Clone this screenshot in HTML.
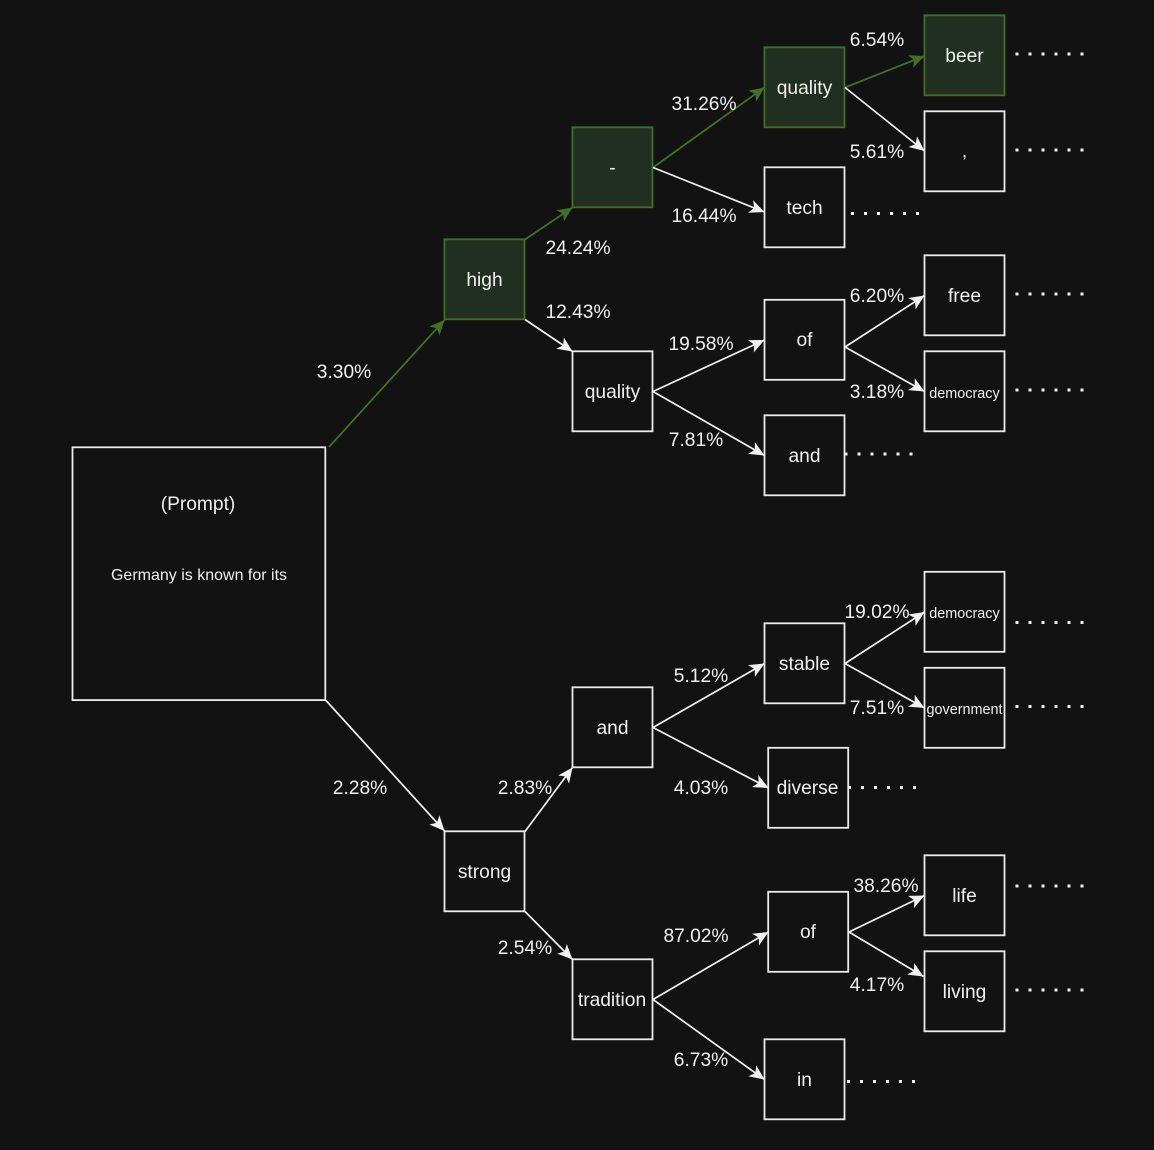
<!DOCTYPE html>
<html>
<head>
<meta charset="utf-8">
<style>
html,body{margin:0;padding:0;background:#121212;width:1154px;height:1150px;overflow:hidden}
svg{display:block}
text{font-family:"Liberation Sans",Arial,sans-serif;fill:#f0f0f0;text-anchor:middle;font-size:19.2px}
.b{fill:#121212;stroke:#ececec;stroke-width:1.8}
.g{fill:#212f20;stroke:#42702a;stroke-width:1.8}
.e{stroke:#f0f0f0;stroke-width:1.7;fill:none;marker-end:url(#aw)}
.eg{stroke:#42702a;stroke-width:1.8;fill:none;marker-end:url(#ag)}
.d{stroke:#f0f0f0;stroke-width:3;stroke-dasharray:3 10;fill:none}
</style>
</head>
<body>
<svg width="1154" height="1150" viewBox="0 0 1154 1150" xmlns="http://www.w3.org/2000/svg">
<defs>
<marker id="aw" markerUnits="userSpaceOnUse" markerWidth="18" markerHeight="18" refX="16" refY="9" orient="auto"><path d="M16,9 L1,2.2 L4.8,9 L1,15.8 Z" fill="#f0f0f0"/></marker>
<marker id="ag" markerUnits="userSpaceOnUse" markerWidth="18" markerHeight="18" refX="16" refY="9" orient="auto"><path d="M16,9 L1,2.2 L4.8,9 L1,15.8 Z" fill="#42702a"/></marker>
</defs>
<rect width="1154" height="1150" fill="#121212"/>

<g transform="translate(-0.3,-0.2)">
<rect class="b" x="72.8" y="447.5" width="252.8" height="252.8"/>
<rect class="g" x="444.8" y="239.5" width="80" height="80"/>
<rect class="g" x="572.8" y="127.5" width="80" height="80"/>
<rect class="g" x="764.8" y="47.5" width="80" height="80"/>
<rect class="g" x="924.8" y="15.5" width="80" height="80"/>
<rect class="b" x="924.8" y="111.5" width="80" height="80"/>
<rect class="b" x="764.8" y="167.5" width="80" height="80"/>
<rect class="b" x="572.8" y="351.5" width="80" height="80"/>
<rect class="b" x="764.8" y="300" width="80" height="80"/>
<rect class="b" x="764.8" y="415.5" width="80" height="80"/>
<rect class="b" x="924.8" y="255.5" width="80" height="80"/>
<rect class="b" x="924.8" y="351.5" width="80" height="80"/>
<rect class="b" x="444.8" y="831.5" width="80" height="80"/>
<rect class="b" x="572.8" y="687.5" width="80" height="80"/>
<rect class="b" x="764.8" y="623.5" width="80" height="80"/>
<rect class="b" x="768.5" y="748" width="80" height="80"/>
<rect class="b" x="924.8" y="572" width="80" height="80"/>
<rect class="b" x="924.8" y="668" width="80" height="80"/>
<rect class="b" x="572.8" y="959.5" width="80" height="80"/>
<rect class="b" x="768.5" y="892" width="80" height="80"/>
<rect class="b" x="764.8" y="1039.5" width="80" height="80"/>
<rect class="b" x="924.8" y="855.5" width="80" height="80"/>
<rect class="b" x="924.8" y="951.5" width="80" height="80"/>
</g>

<line class="eg" x1="329" y1="447" x2="444.5" y2="320"/>
<line class="e" x1="326" y1="700.5" x2="444.5" y2="831"/>
<line class="eg" x1="525" y1="239.5" x2="572.5" y2="207.5"/>
<line class="e" x1="525" y1="319.5" x2="572.5" y2="351.5"/>
<line class="eg" x1="653" y1="167.5" x2="764.5" y2="87.5"/>
<line class="e" x1="653" y1="167.5" x2="764.5" y2="212"/>
<line class="eg" x1="845" y1="87.5" x2="924.5" y2="56"/>
<line class="e" x1="845" y1="87.5" x2="924.5" y2="151"/>
<line class="e" x1="653" y1="391.5" x2="764.5" y2="340"/>
<line class="e" x1="653" y1="391.5" x2="764.5" y2="455.5"/>
<line class="e" x1="845" y1="347" x2="924.5" y2="295.5"/>
<line class="e" x1="845" y1="347" x2="924.5" y2="391.5"/>
<line class="e" x1="525" y1="831.5" x2="572.5" y2="767.5"/>
<line class="e" x1="525" y1="911.5" x2="572.5" y2="959.5"/>
<line class="e" x1="653" y1="727.5" x2="764.5" y2="663.5"/>
<line class="e" x1="653" y1="727.5" x2="768.5" y2="788"/>
<line class="e" x1="845" y1="663.5" x2="924.5" y2="612"/>
<line class="e" x1="845" y1="663.5" x2="924.5" y2="708"/>
<line class="e" x1="653" y1="999.5" x2="768.5" y2="932"/>
<line class="e" x1="653" y1="999.5" x2="764.5" y2="1079.5"/>
<line class="e" x1="849" y1="932" x2="924.5" y2="895.5"/>
<line class="e" x1="849" y1="932" x2="923.5" y2="976.5"/>

<line class="d" x1="1015.5" y1="54" x2="1084" y2="54"/>
<line class="d" x1="1015.5" y1="150" x2="1084" y2="150"/>
<line class="d" x1="851" y1="213.5" x2="919.5" y2="213.5"/>
<line class="d" x1="1015.5" y1="294" x2="1084" y2="294"/>
<line class="d" x1="1015.5" y1="390" x2="1084" y2="390"/>
<line class="d" x1="844.5" y1="454" x2="913" y2="454"/>
<line class="d" x1="1015.5" y1="622.5" x2="1084" y2="622.5"/>
<line class="d" x1="1015.5" y1="706.5" x2="1084" y2="706.5"/>
<line class="d" x1="848" y1="787.5" x2="916.5" y2="787.5"/>
<line class="d" x1="1015.5" y1="886" x2="1084" y2="886"/>
<line class="d" x1="1015.5" y1="990" x2="1084" y2="990"/>
<line class="d" x1="847" y1="1081.5" x2="915.5" y2="1081.5"/>

<text x="198" y="510">(Prompt)</text>
<text x="199" y="580" style="font-size:16px">Germany is known for its</text>
<text x="484.5" y="286">high</text>
<text x="612.5" y="174">-</text>
<text x="804.5" y="94">quality</text>
<text x="964.5" y="62">beer</text>
<text x="964.5" y="157">,</text>
<text x="804.5" y="214">tech</text>
<text x="612.5" y="398">quality</text>
<text x="804.5" y="346">of</text>
<text x="804.5" y="462">and</text>
<text x="964.5" y="302">free</text>
<text x="964.5" y="398" style="font-size:14.4px">democracy</text>
<text x="484.5" y="878">strong</text>
<text x="612.5" y="734">and</text>
<text x="804.5" y="670">stable</text>
<text x="807.5" y="794">diverse</text>
<text x="964.5" y="618" style="font-size:14.4px">democracy</text>
<text x="964.5" y="714" style="font-size:14.4px">government</text>
<text x="612" y="1006">tradition</text>
<text x="808" y="938">of</text>
<text x="804.5" y="1086">in</text>
<text x="964.5" y="902">life</text>
<text x="964.5" y="998">living</text>

<text x="344" y="378">3.30%</text>
<text x="360" y="794">2.28%</text>
<text x="578" y="254">24.24%</text>
<text x="578" y="318">12.43%</text>
<text x="704" y="110">31.26%</text>
<text x="704" y="222">16.44%</text>
<text x="877" y="46">6.54%</text>
<text x="877" y="158">5.61%</text>
<text x="701" y="350">19.58%</text>
<text x="696" y="446">7.81%</text>
<text x="877" y="302">6.20%</text>
<text x="877" y="398">3.18%</text>
<text x="525" y="794">2.83%</text>
<text x="525" y="954">2.54%</text>
<text x="701" y="682">5.12%</text>
<text x="701" y="794">4.03%</text>
<text x="877" y="618">19.02%</text>
<text x="877" y="714">7.51%</text>
<text x="696" y="942">87.02%</text>
<text x="701" y="1066">6.73%</text>
<text x="886" y="892">38.26%</text>
<text x="877" y="991">4.17%</text>
</svg>
</body>
</html>
